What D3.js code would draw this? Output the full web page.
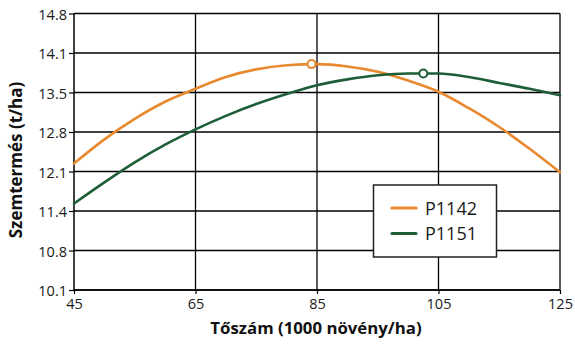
<!DOCTYPE html>
<html><head><meta charset="utf-8">
<script src="https://cdn.jsdelivr.net/npm/d3@7"></script>
<style>
html,body{margin:0;padding:0;background:#fff;}
svg{display:block;font-family:"Open Sans",sans-serif;}
</style></head>
<body><svg id="c" width="575" height="355"></svg>
<script>
const density = [45,50,55,60,65,70,75,80,85,90,95,100,105,110,115,120,125];
const p1142 = [12.25,12.66,13.01,13.30,13.52,13.72,13.85,13.92,13.94,13.90,13.81,13.66,13.47,13.19,12.87,12.50,12.10];
const p1151 = [11.57,11.93,12.27,12.57,12.83,13.06,13.26,13.43,13.58,13.68,13.75,13.78,13.78,13.72,13.62,13.52,13.41];
const seriesNames = ["P1142","P1151"];
const optimumX = [84.1,102.5];
const optimumY = [13.94,13.78];
const xTicks = [45,65,85,105,125];
const yTickLabels = ["10.1","10.8","11.4","12.1","12.8","13.5","14.1","14.8"];
const colors = ["#E8892F","#1D5E37"];

const svg = d3.select("#c");
const L=74, R=560, T=13.5, B=290;
const x = d3.scaleLinear().domain([45,125]).range([L,R]);
const y = d3.scaleLinear().domain([10.1,14.8]).range([B,T]);
const yTickVals = yTickLabels.map((d,i)=>10.1 + i*(14.8-10.1)/(yTickLabels.length-1));

svg.append("g").selectAll("line").data(yTickVals).join("line")
  .attr("x1",L).attr("x2",R).attr("y1",d=>y(d)).attr("y2",d=>y(d))
  .attr("stroke","#000").attr("stroke-width",1.3);
svg.append("g").selectAll("line").data(xTicks.slice(1)).join("line")
  .attr("x1",d=>x(d)).attr("x2",d=>x(d)).attr("y1",T).attr("y2",B)
  .attr("stroke","#000").attr("stroke-width",1.3);

const yAxis = d3.axisLeft(y).tickValues(yTickVals).tickFormat((d,i)=>yTickLabels[i]).tickSize(5).tickPadding(2);
const gy = svg.append("g").attr("transform",`translate(${L},0)`).call(yAxis);
gy.select(".domain").attr("stroke","#000").attr("stroke-width",1.5).attr("d",`M0,${T}V${B}`);
gy.selectAll(".tick line").attr("stroke","#000").attr("stroke-width",1.2);
gy.selectAll("text").attr("font-size",14.5).attr("fill","#1a1a1a").attr("font-family","'Open Sans',sans-serif").attr("dy","0.4em");

const xAxis = d3.axisBottom(x).tickValues(xTicks).tickSize(4).tickPadding(5);
const gx = svg.append("g").attr("transform",`translate(0,${B})`).call(xAxis);
gx.select(".domain").attr("stroke","#000").attr("stroke-width",1.5).attr("d",`M${L},0H${R}`);
gx.selectAll(".tick line").attr("stroke","#000").attr("stroke-width",1.2);
gx.selectAll("text").attr("font-size",14.5).attr("fill","#1a1a1a").attr("font-family","'Open Sans',sans-serif");

const line = d3.line().x((d,i)=>x(density[i])).y(d=>y(d)).curve(d3.curveMonotoneX);
[p1142,p1151].forEach((s,k)=>{
  svg.append("path").datum(s).attr("d",line).attr("fill","none")
    .attr("stroke",colors[k]).attr("stroke-width",2.6).attr("stroke-linecap","round");
});
svg.append("g").selectAll("circle").data(optimumX).join("circle")
  .attr("cx",d=>x(d)).attr("cy",(d,i)=>y(optimumY[i])).attr("r",4)
  .attr("fill","#fff").attr("stroke",(d,i)=>colors[i]).attr("stroke-width",2);

const lg = svg.append("g");
lg.append("rect").attr("x",373.5).attr("y",185).attr("width",123).attr("height",72)
  .attr("fill","#fff").attr("stroke","#222").attr("stroke-width",1.5);
seriesNames.forEach((n,i)=>{
  const yy = 208 + i*25.5;
  lg.append("line").attr("x1",392).attr("x2",416).attr("y1",yy).attr("y2",yy)
    .attr("stroke",colors[i]).attr("stroke-width",3.2).attr("stroke-linecap","round");
  lg.append("text").attr("x",425).attr("y",yy+6.5).attr("font-size",18).attr("fill","#1a1a1a").text(n);
});

svg.append("text").attr("x",316).attr("y",334).attr("text-anchor","middle")
  .attr("font-size",16.8).attr("font-weight","bold").attr("fill","#111").text("Tőszám (1000 növény/ha)");
svg.append("text").attr("transform","translate(22,160) rotate(-90)").attr("text-anchor","middle")
  .attr("font-size",17).attr("font-weight","bold").attr("fill","#111").text("Szemtermés (t/ha)");
</script></body></html>
